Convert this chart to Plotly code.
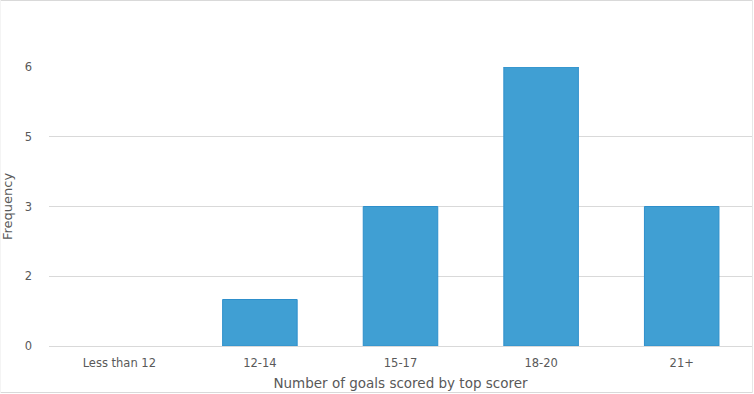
import plotly.graph_objects as go

categories = ["Less than 12", "12-14", "15-17", "18-20", "21+"]
frequency = [0, 1, 3, 6, 3]
tick_vals = [0, 1.5, 3, 4.5, 6]
tick_text = ["0", "2", "3", "5", "6"]

W, H = 754, 394
ml, mr, mt, mb = 49, 2, 67, 48
pw, ph = W - ml - mr, H - mt - mb

fig = go.Figure(go.Bar(
    x=categories, y=frequency,
    marker=dict(color="#409FD3",
                line=dict(color="#2E8FCB", width=[1 if v > 0 else 0 for v in frequency])),
    width=0.53,
))

FONT = "DejaVu Sans, Verdana, sans-serif"
GREY = "#595959"

# frame around the chart (paper coordinates computed from margins)
xl, xr = -(ml - 0.5) / pw, 1 + (mr - 1.5) / pw
yb, yt = -(mb - 1.5) / ph, 1 + (mt - 0.5) / ph
frame = [
    dict(type="line", xref="paper", yref="paper", x0=xl, x1=xr, y0=yt, y1=yt, line=dict(color="#D9D9D9", width=1)),
    dict(type="line", xref="paper", yref="paper", x0=xr, x1=xr, y0=yb, y1=yt, line=dict(color="#E6E6E6", width=1)),
    dict(type="line", xref="paper", yref="paper", x0=xl, x1=xr, y0=yb, y1=yb, line=dict(color="#D9D9D9", width=1)),
    dict(type="line", xref="paper", yref="paper", x0=xl, x1=xl, y0=yb, y1=yt, line=dict(color="#F4F4F4", width=1)),
]

fig.update_layout(
    width=W, height=H,
    margin=dict(l=ml, r=mr, t=mt, b=mb),
    paper_bgcolor="white", plot_bgcolor="white",
    font=dict(family=FONT, size=12, color=GREY),
    showlegend=False,
    xaxis=dict(
        title=dict(text="Number of goals scored by top scorer", font=dict(size=13.5, color=GREY), standoff=10),
        showgrid=False, showline=False, ticks="", ticklabelstandoff=8,
        tickfont=dict(size=11.5, color=GREY),
    ),
    yaxis=dict(
        title=dict(text="Frequency", font=dict(size=13, color=GREY), standoff=10),
        range=[0, 6], tickvals=tick_vals, ticktext=tick_text,
        showgrid=True, gridcolor="#D9D9D9", gridwidth=1,
        zeroline=True, zerolinecolor="#D9D9D9", zerolinewidth=1,
        showline=False, ticks="", ticklabelstandoff=16,
        tickfont=dict(size=11.5, color=GREY),
    ),
    shapes=frame,
)

fig.write_html("out.html", config={"displayModeBar": False},
               post_script="document.body.style.margin='0';")
